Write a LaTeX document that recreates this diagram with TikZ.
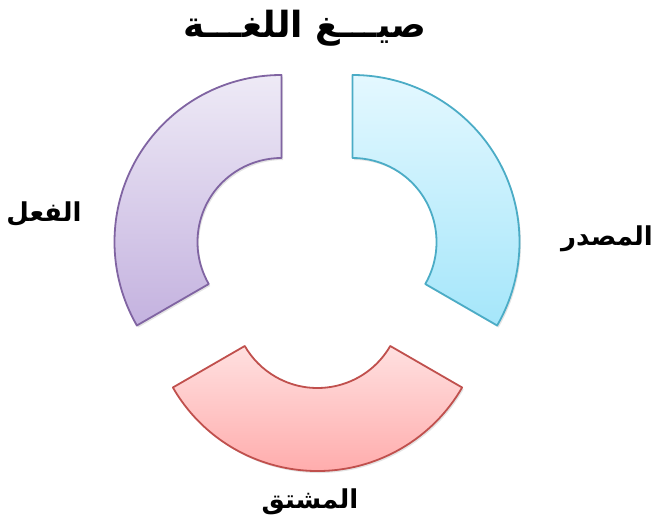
\documentclass[tikz,border=0pt]{standalone}
\usepackage{fontspec}
\newfontfamily\arabicfont[Script=Arabic]{DejaVu Sans}
\TeXXeTstate=1
\usetikzlibrary{shadows}
\definecolor{purpleline}{HTML}{8064A2}
\definecolor{purpletop}{HTML}{EEEAF6}
\definecolor{purplebot}{HTML}{C4B2DF}
\definecolor{cyanline}{HTML}{4BACC6}
\definecolor{cyantop}{HTML}{E4F8FF}
\definecolor{cyanbot}{HTML}{A5E6FA}
\definecolor{redline}{HTML}{C0504D}
\definecolor{redtop}{HTML}{FFE0E0}
\definecolor{redbot}{HTML}{FFA3A3}
\begin{document}
\begin{tikzpicture}[x=1pt,y=1pt]
\tikzset{
  seg/.style={line width=1.8pt, line join=round,
    drop shadow={shadow xshift=1.5pt, shadow yshift=-2pt, opacity=0.22}},
  lbl/.style={font=\arabicfont\bfseries\fontsize{26}{30}\selectfont, inner sep=0pt},
  ttl/.style={font=\arabicfont\bfseries\fontsize{36}{40}\selectfont, inner sep=0pt}
}
\useasboundingbox (0,0) rectangle (658,524);
% left segment (purple)
\draw[seg, draw=purpleline, top color=purpletop, bottom color=purplebot, shift={(281.5,282)}]
  (90:167) arc[start angle=90, end angle=210, radius=167pt]
  -- (210:84) arc[start angle=210, end angle=90, radius=84pt] -- cycle;
% right segment (cyan)
\draw[seg, draw=cyanline, top color=cyantop, bottom color=cyanbot, shift={(352.5,282)}]
  (90:167) arc[start angle=90, end angle=-30, radius=167pt]
  -- (-30:84) arc[start angle=-30, end angle=90, radius=84pt] -- cycle;
% bottom segment (red)
\draw[seg, draw=redline, top color=redtop, bottom color=redbot, shift={(317.5,220)}]
  (210:167) arc[start angle=210, end angle=330, radius=167pt]
  -- (330:84) arc[start angle=330, end angle=210, radius=84pt] -- cycle;
% texts
\node[ttl] (title) at (305,496) {\beginR صيـــغ اللغـــة\endR};
\node[lbl] (fil) at (44,310) {\beginR الفعل\endR};
\node[lbl] (masdar) at (607,285) {\beginR المصدر\endR};
\node[lbl] (mushtaq) at (310,22) {\beginR المشتق\endR};
\end{tikzpicture}
\end{document}
